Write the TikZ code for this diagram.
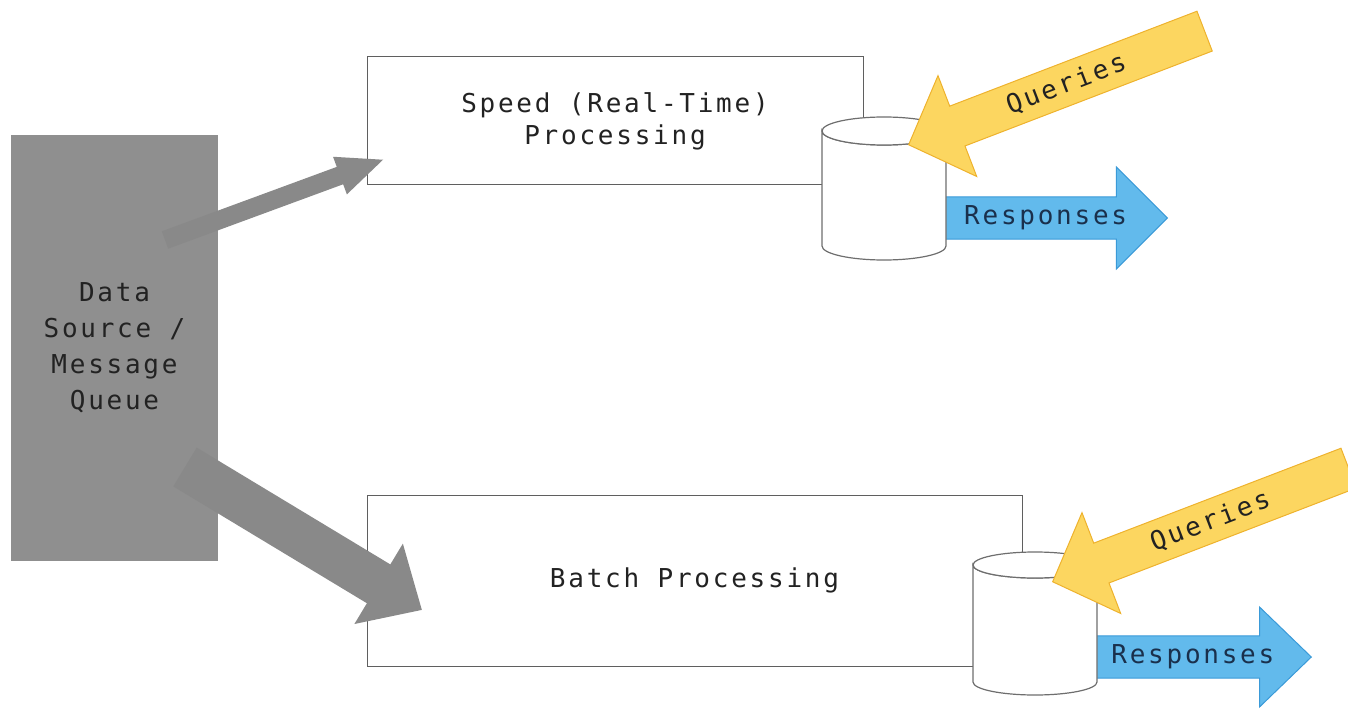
\documentclass[tikz,border=0pt]{standalone}
\usepackage{fontspec}
\usepackage{tikz}
\usetikzlibrary{arrows.meta,shapes.arrows}
\newfontfamily\diagfont[LetterSpace=10.6]{DejaVu Sans Mono}

\definecolor{srcgray}{RGB}{143,143,143}
\definecolor{feedgray}{RGB}{137,137,137}
\definecolor{boxline}{RGB}{95,95,95}
\definecolor{qfill}{RGB}{252,214,96}
\definecolor{qline}{RGB}{238,178,45}
\definecolor{rfill}{RGB}{98,186,236}
\definecolor{rline}{RGB}{58,154,216}
\definecolor{rtext}{RGB}{26,48,76}

\begin{document}
\begin{tikzpicture}[x=0.75pt,y=0.75pt,yscale=-1,xscale=1,
    lbl/.style={font=\diagfont\fontsize{19.5}{24}\selectfont, text={rgb,255:red,34;green,34;blue,34}},
    srcbox/.style={lbl, fill=srcgray, align=center, minimum width=155pt, minimum height=320pt, inner sep=0pt, font=\diagfont\fontsize{19.5}{27}\selectfont},
    procbox/.style={lbl, draw=boxline, fill=white, line width=0.75pt, align=center, inner sep=0pt},
    dbcyl/.style={draw={rgb,255:red,110;green,110;blue,110}, fill=white, line width=0.9pt},
    feed/.style={draw=feedgray},
    qarrow/.style={lbl, single arrow, draw=qline, fill=qfill, line width=0.75pt, shape border rotate=180, rotate=21, inner xsep=2pt, minimum height=237.75pt, minimum width=81pt, single arrow head extend=19pt, single arrow tip angle=92},
    rarrow/.style={lbl, single arrow, draw=rline, fill=rfill, line width=0.75pt, text=rtext, inner xsep=1pt}
  ]
    \useasboundingbox (0,0) rectangle (1348,709);

    % boxes
    \node [srcbox] (src) at (114.5,348) {Data\\Source /\\Message\\Queue};
    \node [procbox, minimum width=372pt, minimum height=96pt] (speed) at (615,121) {Speed (Real-Time)\\Processing};
    \node [procbox, minimum width=491.25pt, minimum height=128.25pt] (batch) at (694.5,580.5) {Batch Processing};

    % feeds out of the source
    \coordinate (f1) at (165,240);
    \coordinate (t1) at (385,159);
    \coordinate (f2) at (185,467);
    \coordinate (t2) at (422,610);
    \draw [feed, line width=13.9pt, -{Triangle[length=36pt,width=27pt]}] (f1) -- (t1);
    \draw [feed, line width=34pt, -{Triangle[length=38pt,width=68pt]}] (f2) -- (t2);

    % responses
    \node [rarrow, anchor=tip, minimum height=166.5pt, minimum width=76.5pt, single arrow head extend=18pt, single arrow tip angle=90] (r1) at (1168,218) {Responses};
    \node [rarrow, anchor=tip, minimum height=161.25pt, minimum width=75pt, single arrow head extend=17.6pt, single arrow tip angle=88] (r2) at (1312,657) {Responses};

    % stores
    \draw [dbcyl] (822,131) -- (822,246) arc [start angle=180, end angle=0, x radius=62, y radius=14] -- (946,131) arc [start angle=0, end angle=180, x radius=62, y radius=14] -- cycle;
    \draw [dbcyl] (884,131) ellipse [x radius=62, y radius=14];
    \draw [dbcyl] (973,565) -- (973,682) arc [start angle=180, end angle=0, x radius=62, y radius=13] -- (1097,565) arc [start angle=0, end angle=180, x radius=62, y radius=13] -- cycle;
    \draw [dbcyl] (1035,565) ellipse [x radius=62, y radius=13];

    % queries
    \node [qarrow, anchor=tip] (q1) at (908,145) {Queries};
    \node [qarrow, anchor=tip] (q2) at (1052,582) {Queries};

\end{tikzpicture}
\end{document}
